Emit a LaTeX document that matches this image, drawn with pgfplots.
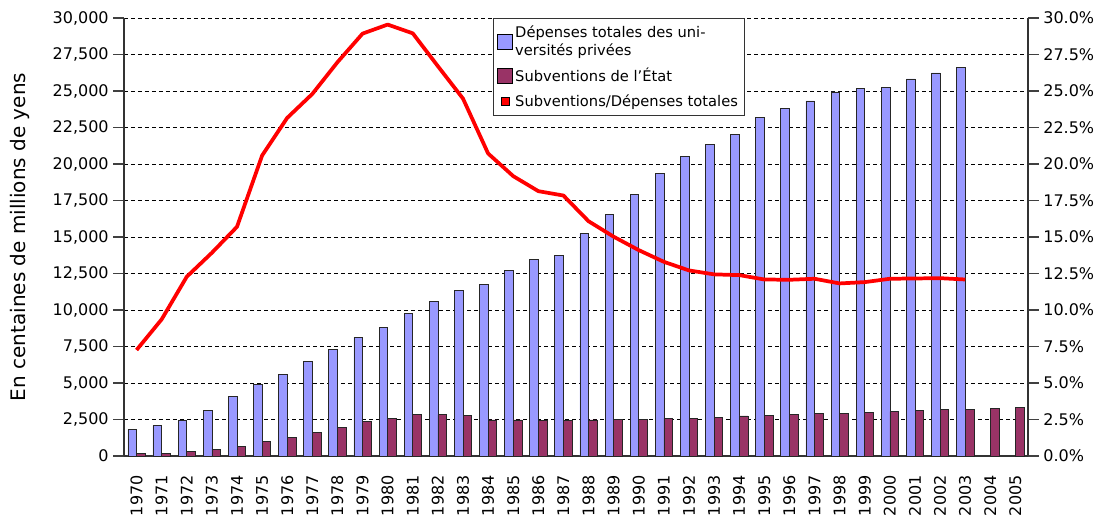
\documentclass[border=0pt]{standalone}
\usepackage{fontspec}
\setmainfont{DejaVu Sans}
\usepackage{pgfplots}
\usepackage{pgfplotstable}
\pgfplotsset{compat=1.18}
\definecolor{barblue}{HTML}{9999FF}
\definecolor{barmaroon}{HTML}{993366}

\pgfplotstableread{
year total
1970 1810
1971 2080
1972 2440
1973 3110
1974 4070
1975 4890
1976 5570
1977 6460
1978 7280
1979 8120
1980 8790
1981 9790
1982 10610
1983 11340
1984 11750
1985 12730
1986 13440
1987 13720
1988 15240
1989 16560
1990 17930
1991 19330
1992 20510
1993 21330
1994 22040
1995 23180
1996 23800
1997 24320
1998 24940
1999 25190
2000 25260
2001 25830
2002 26240
2003 26630
}\totaldata

\pgfplotstableread{
year subv
1970 160
1971 200
1972 320
1973 460
1974 660
1975 1000
1976 1280
1977 1620
1978 1980
1979 2370
1980 2600
1981 2830
1982 2830
1983 2780
1984 2470
1985 2470
1986 2460
1987 2460
1988 2470
1989 2490
1990 2530
1991 2580
1992 2600
1993 2650
1994 2740
1995 2780
1996 2850
1997 2920
1998 2920
1999 2970
2000 3040
2001 3100
2002 3170
2003 3200
2004 3240
2005 3310
}\subvdata

\pgfplotstableread{
year ratio
1970 7.26
1971 9.36
1972 12.28
1973 13.92
1974 15.70
1975 20.58
1976 23.16
1977 24.80
1978 26.97
1979 28.93
1980 29.55
1981 28.95
1982 26.70
1983 24.48
1984 20.72
1985 19.17
1986 18.14
1987 17.84
1988 16.08
1989 15.02
1990 14.10
1991 13.30
1992 12.71
1993 12.44
1994 12.39
1995 12.09
1996 12.07
1997 12.14
1998 11.82
1999 11.91
2000 12.14
2001 12.16
2002 12.18
2003 12.09
}\ratiodata

\begin{document}
\begin{tikzpicture}
\pgfplotsset{
  common/.style={
    scale only axis, width=678pt, height=328.5pt,
    xmin=1969.5, xmax=2005.5,
    /pgf/number format/assume math mode=true,
    tick label style={font=\fontsize{12}{14}\selectfont},
    tick align=outside,
    major tick length=8pt,
    minor tick length=6pt,
    axis line style={black!80, line width=0.8pt},
    every tick/.style={black!75, line width=0.8pt},
    every minor tick/.style={black!75, line width=0.8pt},
  }
}
\begin{axis}[common, name=main,
  ymin=0, ymax=30000,
  axis y line*=left, axis x line*=bottom,
  ybar=0pt, bar width=6.5pt,
  ytick={0,2500,...,30000},
  scaled y ticks=false,
  y tick label style={/pgf/number format/fixed, /pgf/number format/1000 sep={,}},
  xtick={1970,...,2005},
  x tick label style={/pgf/number format/1000 sep={}, yshift=-3pt, rotate=90, anchor=east},
  xtick style={draw=none},
  minor xtick={1969.5,1970.5,...,2005.5},
  ymajorgrids,
  major grid style={black, dash pattern=on 3pt off 2.25pt, line width=0.6pt},
  every axis y label/.style={at={(rel axis cs:0,0.5)}, xshift=-78pt, rotate=90, anchor=center, font=\fontsize{15}{18}\selectfont},
  ylabel={En centaines de millions de yens},
]
\addplot[fill=barblue, draw=black!85, line width=0.5pt] table[x=year, y=total] {\totaldata};
\addplot[fill=barmaroon, draw=black!85, line width=0.5pt] table[x=year, y=subv] {\subvdata};
\end{axis}
\begin{axis}[common,
  ymin=0, ymax=30,
  axis y line*=right, axis x line=none,
  ytick={0,2.5,...,30},
  yticklabel={\pgfmathprintnumber[fixed,fixed zerofill,precision=1]{\tick}\%},
  legend style={at={(0.408,1)}, anchor=north west, draw=black!80, line width=0.6pt, fill=white,
    font=\fontsize{11}{13.5}\selectfont, cells={anchor=west, align=left},
    inner xsep=3pt, inner ysep=3.5pt, row sep=4pt},
  legend cell align=left,
]
\addlegendimage{legend image code/.code={\draw[fill=barblue,draw=black,line width=0.5pt] (0pt,-5.5pt) rectangle (11pt,5.5pt);}}
\addlegendentry{Dépenses totales des uni-\\versités privées}
\addlegendimage{legend image code/.code={\draw[fill=barmaroon,draw=black,line width=0.5pt] (0pt,-5.5pt) rectangle (11pt,5.5pt);}}
\addlegendentry{Subventions de l’État}
\addlegendimage{legend image code/.code={\draw[fill=red,draw=black,line width=0.4pt] (2.5pt,-3pt) rectangle (8.5pt,3pt);}}
\addlegendentry{Subventions/Dépenses totales}
\addplot[red, line width=2.8pt, line join=round, mark=none, forget plot] table[x=year, y=ratio] {\ratiodata};
\end{axis}
\path (main.south west) ++(-93pt,-45.75pt) rectangle ++(827.25pt,387.75pt);
\end{tikzpicture}
\end{document}
